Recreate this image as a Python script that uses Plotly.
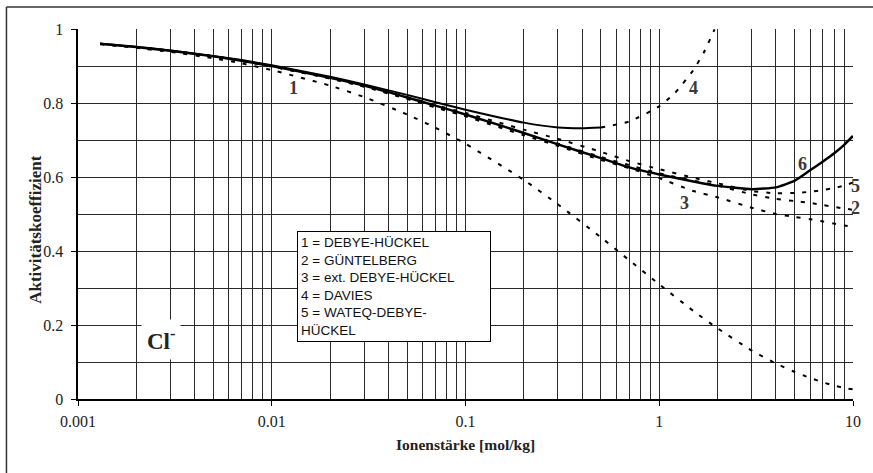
import plotly.graph_objects as go

# ---------------- data ----------------
ionic_strength = [0.0013, 0.002, 0.003, 0.005, 0.007, 0.01, 0.02, 0.03, 0.05, 0.07,
                  0.1, 0.2, 0.3, 0.5, 0.7, 1, 1.5, 2, 3, 4, 5, 6, 7, 8, 9, 10]

debye_hueckel = [0.959, 0.949, 0.938, 0.921, 0.907, 0.889, 0.847, 0.816, 0.769, 0.733,
                 0.690, 0.592, 0.526, 0.437, 0.375, 0.310, 0.238, 0.191, 0.131, 0.096,
                 0.073, 0.057, 0.045, 0.036, 0.030, 0.026]

guentelberg = [0.960, 0.951, 0.941, 0.926, 0.914, 0.899, 0.867, 0.845, 0.812, 0.789,
               0.766, 0.718, 0.690, 0.654, 0.632, 0.610, 0.590, 0.577, 0.553, 0.541,
               0.535, 0.530, 0.524, 0.519, 0.515, 0.511]

ext_debye_hueckel = [0.960, 0.951, 0.941, 0.926, 0.914, 0.899, 0.866, 0.844, 0.811, 0.788,
                     0.764, 0.713, 0.684, 0.646, 0.624, 0.597, 0.562, 0.545, 0.517, 0.500,
                     0.492, 0.486, 0.480, 0.474, 0.469, 0.465]

wateq_debye_hueckel = [0.960, 0.951, 0.941, 0.926, 0.914, 0.899, 0.868, 0.847, 0.816, 0.794,
                       0.773, 0.728, 0.703, 0.668, 0.643, 0.621, 0.598, 0.583, 0.562, 0.556,
                       0.557, 0.560, 0.565, 0.570, 0.577, 0.585]

pitzer = [0.960, 0.951, 0.941, 0.926, 0.914, 0.900, 0.868, 0.847, 0.815, 0.793,
          0.769, 0.719, 0.688, 0.651, 0.626, 0.607, 0.588, 0.576, 0.567, 0.572,
          0.590, 0.618, 0.642, 0.664, 0.687, 0.711]

davies_I_valid = [0.0013, 0.002, 0.003, 0.005, 0.007, 0.01, 0.02, 0.03, 0.05, 0.07,
                  0.1, 0.2, 0.3, 0.4, 0.5]
davies_valid = [0.960, 0.952, 0.942, 0.927, 0.916, 0.902, 0.871, 0.850, 0.822, 0.802,
                0.782, 0.747, 0.734, 0.732, 0.734]
davies_I_ext = [0.5, 0.7, 1, 1.2, 1.5, 1.7, 1.93]
davies_ext = [0.734, 0.750, 0.791, 0.826, 0.889, 0.937, 0.999]

x_tick_vals = [0.001, 0.01, 0.1, 1, 10]
x_tick_text = ["0.001", "0.01", "0.1", "1", "10"]

legend_lines = ["1 = DEBYE-HÜCKEL", "2 = GÜNTELBERG", "3 = ext. DEBYE-HÜCKEL",
                "4 = DAVIES", "5 = WATEQ-DEBYE-", "HÜCKEL"]

# ---------------- figure ----------------
SERIF = "Liberation Serif"
SANS = "Liberation Sans"
DASH = "4px,8px"

fig = go.Figure()

def dashed(x, y):
    fig.add_trace(go.Scatter(x=x, y=y, mode="lines", showlegend=False, hoverinfo="skip",
                             line=dict(color="black", width=2, dash=DASH, shape="spline", smoothing=0.5)))

dashed(ionic_strength, debye_hueckel)
dashed(ionic_strength, guentelberg)
dashed(ionic_strength, ext_debye_hueckel)
dashed(ionic_strength, wateq_debye_hueckel)
dashed(davies_I_ext, davies_ext)

fig.add_trace(go.Scatter(x=davies_I_valid, y=davies_valid, mode="lines", showlegend=False,
                         hoverinfo="skip",
                         line=dict(color="black", width=2, shape="spline", smoothing=0.5)))
fig.add_trace(go.Scatter(x=ionic_strength, y=pitzer, mode="lines", showlegend=False,
                         hoverinfo="skip",
                         line=dict(color="black", width=2.5, shape="spline", smoothing=0.5)))

GRID = "#2a2a2a"
fig.update_xaxes(type="log", range=[-3, 1], tickmode="array", tickvals=x_tick_vals,
                 ticktext=x_tick_text, ticks="outside", ticklen=5, tickcolor="black",
                 showgrid=True, gridcolor=GRID, gridwidth=1,
                 minor=dict(dtick="D1", showgrid=True, gridcolor=GRID, gridwidth=1, ticks=""),
                 showline=True, linecolor="black", linewidth=1.5,
                 tickfont=dict(family=SERIF, size=16, color="#222"),
                 ticklabelstandoff=2, ticklabeloverflow="allow", zeroline=False)
fig.update_yaxes(range=[0, 1], dtick=0.2, ticks="outside", ticklen=5, tickcolor="black",
                 showgrid=True, gridcolor=GRID, gridwidth=1,
                 minor=dict(dtick=0.1, showgrid=True, gridcolor=GRID, gridwidth=1, ticks=""),
                 showline=True, linecolor="black", linewidth=2.5,
                 tickfont=dict(family=SERIF, size=16, color="#222"),
                 ticklabelstandoff=4, zeroline=False)

W, H = 873, 473
L, R, T, B = 78, 15, 29, 74
pw, ph = W - L - R, H - T - B

def px_x(px):
    return (px - L) / pw

def px_y(py):
    return (H - B - py) / ph

annotations = []
# curve labels inside the plot area (data coordinates: log10 of x)
for txt, lx, ly in [("1", -1.887, 0.8405), ("4", 0.179, 0.8405), ("6", 0.738, 0.635),
                    ("3", 0.128, 0.5297)]:
    annotations.append(dict(x=lx, y=ly, xref="x", yref="y", text=f"<b>{txt}</b>",
                            showarrow=False, font=dict(family=SERIF, size=18, color="#3a3a3a")))
# curve labels just right of the plot area
for txt, ly in [("5", 0.5757), ("2", 0.5149)]:
    annotations.append(dict(x=px_x(867), y=ly, xref="paper", yref="y", text=f"<b>{txt}</b>",
                            showarrow=False, font=dict(family=SERIF, size=18, color="#3a3a3a")))
# Cl- label
annotations.append(dict(x=-2.574, y=0.162, xref="x", yref="y", text="<b>Cl<sup>-</sup></b>",
                        showarrow=False, bgcolor="white", borderpad=5,
                        font=dict(family=SERIF, size=23, color="#222")))
# legend box
annotations.append(dict(x=px_x(298), y=px_y(231), xref="paper", yref="paper",
                        xanchor="left", yanchor="top", align="left",
                        text="<br>".join(legend_lines), showarrow=False,
                        bgcolor="white", bordercolor="black", borderwidth=1, borderpad=3,
                        width=186, height=103,
                        font=dict(family=SANS, size=13.5, color="#111")))
# axis titles
annotations.append(dict(x=px_x(468), y=px_y(455), xref="paper", yref="paper",
                        text="<b>Ionenstärke [mol/kg]</b>", showarrow=False,
                        font=dict(family=SERIF, size=15.5, color="#222")))
annotations.append(dict(x=px_x(23), y=px_y(229), xref="paper", yref="paper", textangle=-90,
                        text="<b>Aktivitätskoeffizient</b>", showarrow=False,
                        font=dict(family=SERIF, size=17, color="#222")))

shapes = [
    # hide the top gridline at y = 1
    dict(type="line", xref="paper", yref="paper", x0=0.004, x1=0.999, y0=1, y1=1,
         line=dict(color="white", width=2), layer="below"),
    # outer frame (top and left edges visible)
    dict(type="line", xref="paper", yref="paper", x0=px_x(6), x1=px_x(880), y0=px_y(7), y1=px_y(7),
         line=dict(color="#333", width=1.5)),
    dict(type="line", xref="paper", yref="paper", x0=px_x(6), x1=px_x(6), y0=px_y(7), y1=px_y(480),
         line=dict(color="#333", width=1.5)),
]

fig.update_layout(width=W, height=H, margin=dict(l=L, r=R, t=T, b=B),
                  paper_bgcolor="white", plot_bgcolor="white",
                  font=dict(family=SERIF, size=16, color="#222"),
                  annotations=annotations, shapes=shapes, showlegend=False,
                  hovermode=False)

fig.write_html("out.html", config={"displayModeBar": False, "staticPlot": True},
               post_script="document.body.style.margin='0px';document.body.style.overflow='hidden';")
